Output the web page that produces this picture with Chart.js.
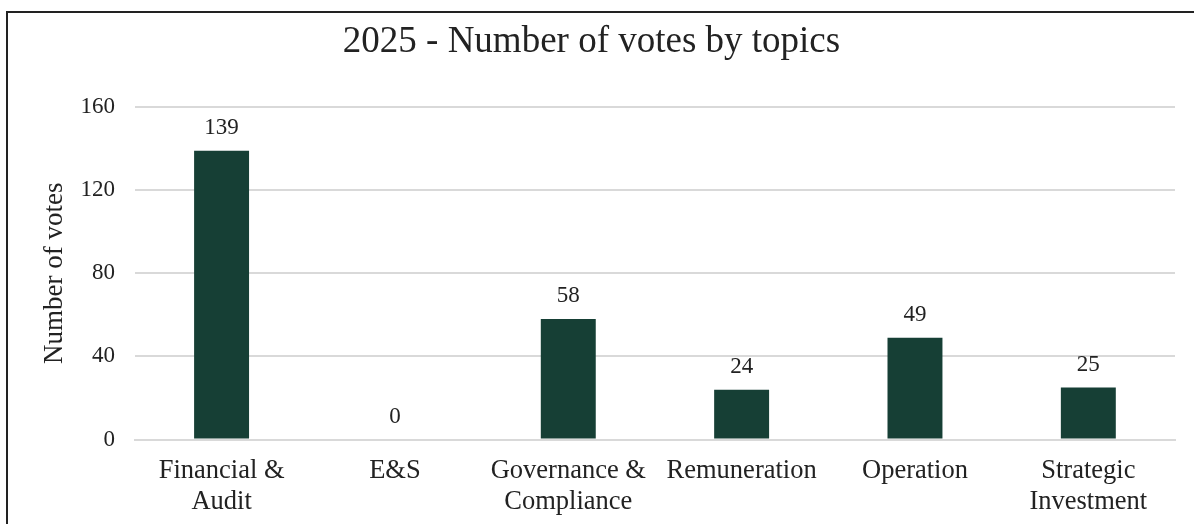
<!DOCTYPE html>
<html lang="en">
<head>
    <meta charset="UTF-8">
    <title>2025 - Number of votes by topics</title>
    <script src="https://cdn.jsdelivr.net/npm/chart.js"></script>
    <style>
        html, body {
            margin: 0;
            padding: 0;
            overflow: hidden;
            background: #fff;
        }
        .frame {
            position: absolute;
            left: 6px;
            top: 11px;
            width: 1300px;
            height: 600px;
            border: 2px solid #222;
        }
        .chart-wrapper {
            position: absolute;
            left: 0;
            top: 0;
            width: 1186px;
            height: 521px;
        }
    </style>
</head>
<body>
<div class="frame">
    <div class="chart-wrapper">
        <canvas id="votesChart"></canvas>
    </div>
</div>

<script>
    // data
    const topics = [
        ['Financial &', 'Audit'],
        'E&S',
        ['Governance &', 'Compliance'],
        'Remuneration',
        'Operation',
        ['Strategic', 'Investment']
    ];
    const votes = [139, 0, 58, 24, 49, 25];
    const yTicks = [0, 40, 80, 120, 160];

    const serif = "'Liberation Serif', 'Times New Roman', serif";
    const textColor = '#222';
    const gridColor = '#d9d9d9';

    // value labels above the bars
    const valueLabels = {
        id: 'valueLabels',
        afterDatasetsDraw(chart) {
            const ctx = chart.ctx;
            const meta = chart.getDatasetMeta(0);
            ctx.save();
            ctx.font = '23px ' + serif;
            ctx.fillStyle = textColor;
            ctx.textAlign = 'center';
            ctx.textBaseline = 'alphabetic';
            meta.data.forEach((bar, i) => {
                ctx.fillText(String(votes[i]), bar.x, bar.y - 17);
            });
            ctx.restore();
        }
    };

    const ctx = document.getElementById('votesChart').getContext('2d');
    const votesChart = new Chart(ctx, {
        type: 'bar',
        data: {
            labels: topics,
            datasets: [{
                label: 'Number of votes',
                data: votes,
                backgroundColor: '#163F35',
                barPercentage: 0.317,
                categoryPercentage: 1
            }]
        },
        options: {
            responsive: true,
            maintainAspectRatio: false,
            animation: false,
            layout: {
                padding: { left: 0, right: 19, top: 0, bottom: 0 }
            },
            plugins: {
                legend: { display: false },
                tooltip: { enabled: false },
                title: {
                    display: true,
                    text: '2025 - Number of votes by topics',
                    color: textColor,
                    font: { family: serif, size: 37, weight: 'normal' },
                    padding: { top: 7, bottom: 42.6 }
                }
            },
            scales: {
                x: {
                    grid: { display: false, drawTicks: false },
                    border: { display: true, color: gridColor, width: 2 },
                    ticks: {
                        color: textColor,
                        font: { family: serif, size: 26.5, lineHeight: 1.17 },
                        padding: 16.2,
                        maxRotation: 0,
                        autoSkip: false
                    }
                },
                y: {
                    min: 0,
                    max: yTicks[yTicks.length - 1],
                    afterBuildTicks(scale) {
                        scale.ticks = yTicks.map(v => ({ value: v }));
                    },
                    grid: { color: gridColor, lineWidth: 2, drawTicks: false },
                    border: { display: false },
                    ticks: {
                        color: textColor,
                        font: { family: serif, size: 23 },
                        padding: 20
                    },
                    title: {
                        display: true,
                        text: 'Number of votes',
                        color: textColor,
                        font: { family: serif, size: 27 },
                        padding: { top: 31, bottom: -11 }
                    }
                }
            }
        },
        plugins: [valueLabels]
    });
</script>
</body>
</html>
